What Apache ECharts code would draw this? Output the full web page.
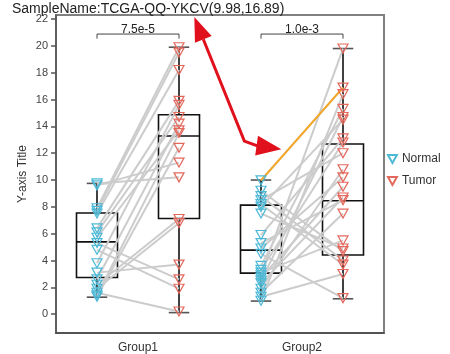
<!DOCTYPE html>
<html>
<head>
<meta charset="utf-8">
<script src="https://cdn.jsdelivr.net/npm/echarts@6/dist/echarts.min.js"></script>
<style>
html, body { margin: 0; padding: 0; background: #fff; }
#chart { width: 450px; height: 354px; }
</style>
</head>
<body>
<div id="chart"></div>
<script>
// categories and ticks
var groups = ['Group1', 'Group2'];
var yTicks = [0, 2, 4, 6, 8, 10, 12, 14, 16, 18, 20, 22];

// paired samples, same index = same sample
var g1Normal = [9.75, 9.6, 7.9, 7.7, 7.5, 6.4, 6.1, 5.7, 5.3, 4.8, 3.8, 3.1, 2.6, 2.2, 1.9, 1.6, 1.4, 1.3];
var g1Tumor  = [10.2, 11.3, 19.9, 19.5, 18.2, 15.9, 14.7, 13.7, 2.6, 1.9, 15.6, 3.7, 14.2, 7.1, 6.8, 0.2, 13.5, 12.4];
var g2Normal = [9.98, 9.2, 8.8, 8.5, 8.2, 8.0, 7.5, 5.9, 5.3, 4.9, 4.5, 3.6, 3.3, 3.1, 2.9, 2.7, 2.5, 2.3, 1.9, 1.6, 1.3, 1.0];
var g2Tumor  = [16.89, 4.7, 4.0, 12.0, 3.7, 14.5, 4.9, 13.1, 8.5, 10.2, 1.2, 15.3, 12.8, 5.5, 19.8, 9.5, 14.7, 8.7, 10.8, 7.5, 3.0, 16.4];

// box stats: min, q1, median, q3, max
var g1NormalBox = [1.27, 2.74, 5.39, 7.54, 9.75];
var g1TumorBox  = [0.12, 7.13, 13.28, 14.87, 19.9];
var g2NormalBox = [0.98, 3.06, 4.78, 8.13, 10.0];
var g2TumorBox  = [1.15, 4.41, 8.46, 12.69, 19.8];

var pValues = ['7.5e-5', '1.0e-3'];
var bracketTop = 20.88;
var bracketFoot = 20.54;

// highlighted sample (group2)
var sampleName = 'TCGA-QQ-YKCV';
var highlight = [9.98, 16.89];

// arrow annotation, data coords: tip near title, bend, joint, tip near the orange line
var arrowPath = [[1.687, 22.15], [2.297, 12.9], [2.455, 12.55], [2.748, 12.3]];

var normalColor = '#4db9d6';
var tumorColor = '#e5685c';
var triangle = 'path://M0,0L10,0L5,9Z';

var pairs = [], normalPts = [], tumorPts = [];
[[g1Normal, g1Tumor], [g2Normal, g2Tumor]].forEach(function (g, gi) {
    var xn = gi * 2 + 0.5;
    for (var i = 0; i < g[0].length; i++) {
        pairs.push([xn, g[0][i], g[1][i]]);
        normalPts.push([xn, g[0][i]]);
        tumorPts.push([xn + 1, g[1][i]]);
    }
});
var boxes = [[0.5].concat(g1NormalBox), [1.5].concat(g1TumorBox),
             [2.5].concat(g2NormalBox), [3.5].concat(g2TumorBox)];
var brackets = pValues.map(function (p, i) { return [i * 2 + 0.5, i * 2 + 1.5, i]; });

function pairItem(params, api) {
    var x = api.value(0);
    var a = api.coord([x, api.value(1)]);
    var b = api.coord([x + 1, api.value(2)]);
    return {
        type: 'line',
        shape: { x1: a[0], y1: a[1], x2: b[0], y2: b[1] },
        style: { stroke: '#cccccc', lineWidth: 2 }
    };
}

function boxItem(params, api) {
    var x = api.value(0);
    var lo = api.coord([x, api.value(1)]);
    var q1 = api.coord([x, api.value(2)]);
    var md = api.coord([x, api.value(3)]);
    var q3 = api.coord([x, api.value(4)]);
    var hi = api.coord([x, api.value(5)]);
    var half = api.size([0.5, 0])[0] / 2;
    var cap = half / 2;
    var cx = lo[0];
    var st = { stroke: '#111', lineWidth: 1.6, fill: null };
    var cs = { stroke: '#555', lineWidth: 1.6 };
    return {
        type: 'group',
        children: [
            { type: 'rect', shape: { x: cx - half, y: q3[1], width: half * 2, height: q1[1] - q3[1] }, style: st },
            { type: 'line', shape: { x1: cx - half, y1: md[1], x2: cx + half, y2: md[1] }, style: st },
            { type: 'line', shape: { x1: cx, y1: q3[1], x2: cx, y2: hi[1] }, style: st },
            { type: 'line', shape: { x1: cx, y1: q1[1], x2: cx, y2: lo[1] }, style: st },
            { type: 'line', shape: { x1: cx - cap, y1: hi[1], x2: cx + cap, y2: hi[1] }, style: cs },
            { type: 'line', shape: { x1: cx - cap, y1: lo[1], x2: cx + cap, y2: lo[1] }, style: cs }
        ]
    };
}

function bracketItem(params, api) {
    var a = api.coord([api.value(0), bracketFoot]);
    var b = api.coord([api.value(0), bracketTop]);
    var c = api.coord([api.value(1), bracketTop]);
    var d = api.coord([api.value(1), bracketFoot]);
    return {
        type: 'group',
        children: [
            { type: 'polyline', shape: { points: [a, b, c, d] }, style: { stroke: '#444', lineWidth: 1, fill: null } },
            { type: 'text', style: {
                text: pValues[api.value(2)], x: (b[0] + c[0]) / 2, y: b[1] + 2,
                align: 'center', verticalAlign: 'bottom',
                fontSize: 12, fill: '#222', fontFamily: 'Liberation Sans'
            } }
        ]
    };
}

var chart = echarts.init(document.getElementById('chart'));
var option = {
    animation: false,
    backgroundColor: '#fff',
    textStyle: { fontFamily: 'Liberation Sans, Arial, sans-serif' },
    title: {
        text: 'SampleName:' + sampleName + '(' + highlight.join(',') + ')',
        left: 12,
        top: 2,
        padding: 0,
        textStyle: { fontSize: 14, fontWeight: 'normal', color: '#222' }
    },
    legend: {
        orient: 'vertical',
        left: 387,
        top: 153,
        padding: 0,
        itemWidth: 9,
        itemHeight: 8,
        itemGap: 10,
        textStyle: { fontSize: 12, color: '#333' },
        data: ['Normal', 'Tumor']
    },
    grid: {
        left: 56, right: 66, top: 15, bottom: 17,
        show: true, borderColor: '#808080', borderWidth: 2
    },
    xAxis: [{
        type: 'category',
        data: groups,
        axisLine: { onZero: false, lineStyle: { color: '#444', width: 1.5 } },
        axisTick: { alignWithLabel: true, length: 5, lineStyle: { color: '#444', width: 1.5 } },
        axisLabel: { fontSize: 12, color: '#333', margin: 9 }
    }, {
        type: 'value',
        min: 0,
        max: 4,
        show: false
    }],
    yAxis: {
        type: 'value',
        min: -1.4,
        max: 22.3,
        name: 'Y-axis Title',
        nameLocation: 'middle',
        nameGap: 27,
        nameMoveOverlap: false,
        nameTextStyle: { fontSize: 12, color: '#333' },
        splitLine: { show: false },
        axisLine: { show: true, lineStyle: { color: '#555', width: 1.5 } },
        axisTick: { show: true, length: 5, customValues: yTicks, lineStyle: { color: '#555', width: 1.5 } },
        axisLabel: { fontSize: 11, color: '#444', margin: 8, customValues: yTicks }
    },
    series: [{
        type: 'custom',
        xAxisIndex: 1,
        renderItem: boxItem,
        data: boxes,
        z: 1,
        silent: true
    }, {
        type: 'custom',
        xAxisIndex: 1,
        renderItem: pairItem,
        data: pairs,
        z: 2,
        silent: true
    }, {
        type: 'line',
        xAxisIndex: 1,
        data: [[2.5, highlight[0]], [3.5, highlight[1]]],
        symbol: 'none',
        lineStyle: { color: '#f5a623', width: 2 },
        z: 3,
        silent: true
    }, {
        name: 'Normal',
        type: 'scatter',
        xAxisIndex: 1,
        data: normalPts,
        symbol: triangle,
        symbolSize: [10, 9],
        itemStyle: { color: 'rgba(255,255,255,0)', borderColor: normalColor, borderWidth: 1.2, opacity: 1 },
        z: 4
    }, {
        name: 'Tumor',
        type: 'scatter',
        xAxisIndex: 1,
        data: tumorPts,
        symbol: triangle,
        symbolSize: [10, 9],
        itemStyle: { color: 'rgba(255,255,255,0)', borderColor: tumorColor, borderWidth: 1.2, opacity: 1 },
        z: 4
    }, {
        type: 'custom',
        xAxisIndex: 1,
        renderItem: bracketItem,
        data: brackets,
        z: 5,
        silent: true
    }]
};
chart.setOption(option);

// red double-headed arrow from the title to the highlighted pair
var px = arrowPath.map(function (p) {
    return chart.convertToPixel({ xAxisIndex: 1, yAxisIndex: 0 }, p);
});
function head(tip, from, len, w) {
    var dx = tip[0] - from[0], dy = tip[1] - from[1];
    var l = Math.sqrt(dx * dx + dy * dy);
    dx /= l; dy /= l;
    var bx = tip[0] - dx * len, by = tip[1] - dy * len;
    return {
        base: [bx, by],
        pts: [tip, [bx - dy * w, by + dx * w], [bx + dy * w, by - dx * w]]
    };
}
var h1 = head(px[0], px[1], 24, 9);
var h2 = head(px[3], px[2], 25, 10);
chart.setOption({
    graphic: [{
        type: 'polyline',
        shape: { points: [h1.base, px[1], px[2], h2.base] },
        style: { stroke: '#e0101c', lineWidth: 3, fill: null },
        z: 100
    }, {
        type: 'polygon',
        shape: { points: h1.pts },
        style: { fill: '#e0101c' },
        z: 100
    }, {
        type: 'polygon',
        shape: { points: h2.pts },
        style: { fill: '#e0101c' },
        z: 100
    }]
});
</script>
</body>
</html>
